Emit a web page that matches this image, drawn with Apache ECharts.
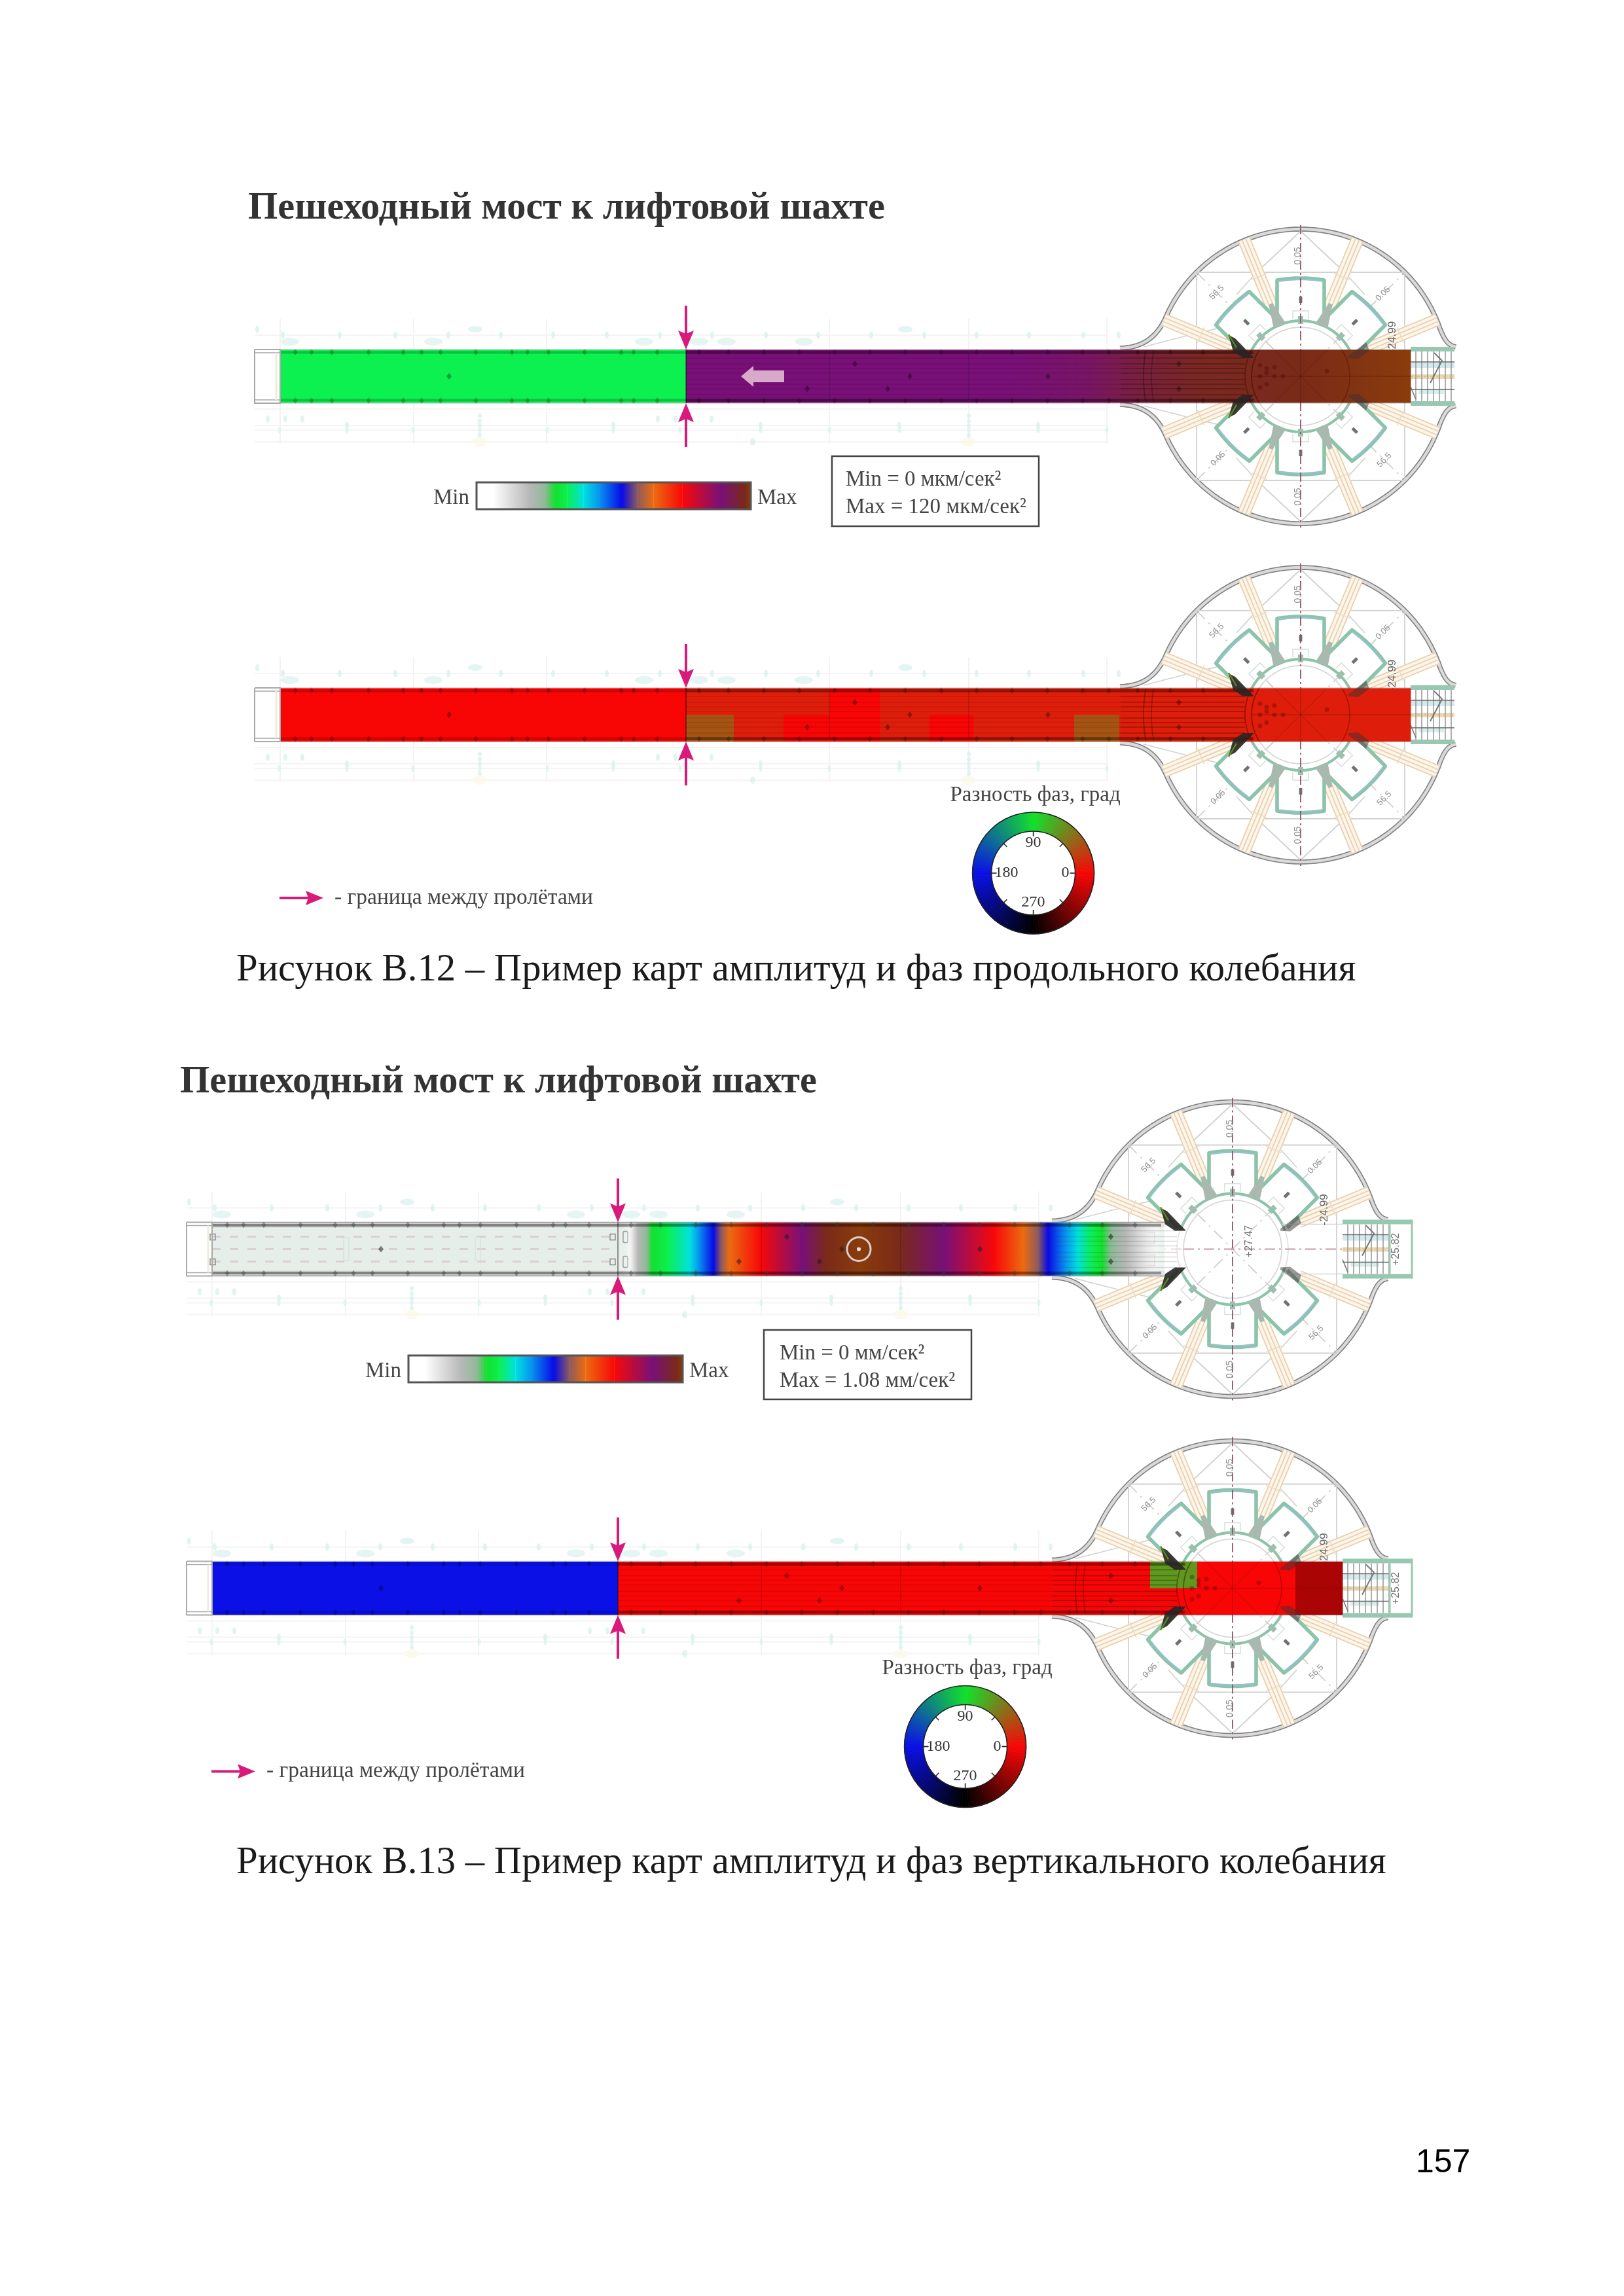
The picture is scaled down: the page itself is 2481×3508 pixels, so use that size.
<!DOCTYPE html>
<html><head><meta charset="utf-8">
<style>html,body{margin:0;padding:0;background:#fff}#c{width:2481px;height:3508px}</style>
<script src="https://cdn.jsdelivr.net/npm/echarts@6/dist/echarts.min.js"></script>
</head><body><div id="c"></div>
<script>
// ---- data ----
// amplitude along the bridge (share of Max), longitudinal mode
const longAmpPos=[0,620,620,1100,1190,1240,1300,1400,1560,1727];
const longAmpVal=[.33,.33,.89,.89,.90,.91,.94,.97,.98,1];
// amplitude along the bridge, vertical mode
const vertAmpPos=[620,634,650,672,696,730,744,766,790,837,901,939,990,1048,1118,1195,1239,1262,1277,1322,1360,1396,1443,1490];
const vertAmpVal=[0,.03,.19,.285,.33,.39,.45,.53,.645,.75,.89,.98,1,.98,.89,.75,.645,.585,.53,.39,.285,.19,.06,0];
// phase cells (degrees)
const longPhaseEdges=[0,620,693,769,840,916,992,1059,1213,1282,1727];
const longPhaseTop=[0,10,10,10,0,10,10,10,10,10];
const longPhaseBottom=[0,32,10,0,0,10,0,10,32,10];
const vertPhaseEdges=[0,620,1433,1505,1655,1727];
const vertPhaseTop=[180,0,60,0,332];
const vertPhaseBottom=[180,0,0,0,332];
// scale stops
const ampScalePos=[0,.06,.19,.25,.285,.33,.39,.45,.53,.585,.645,.75,.89,.98,1];
const ampScaleCol=['#ffffff','#ffffff','#b8b8b8','#90b898','#12e02c','#0cf050','#00e0e0','#0890f0','#0808e8','#8a5a60','#ec6c10','#f80808','#781078','#7a2a18','#8a3c0c'];
const phaseScalePos=[0,90,180,270,360];
const phaseScaleCol=['#f80606','#12e02c','#0a10e6','#000000','#f80606'];
const phaseTicks=[0,45,90,135,180,225,270,315];
const phaseLabels=['0','90','180','270'];
// drawing survey
const supportS=[0,204,407,620,839,1052,1263];
const layoutRowsY=[-63,50,75,82,100];
const upperDotS=[4,91,176,257,337,417,499,580,660,742,822,903,984,1064,1144,1227,1281];
const upperTagS=[298,955];
const upperBlockS=[15,234,556,640,682,800];
const lowerDotAS=[-19,8,34,577,604,659];
const lowerDotBS=[102,509,734,946,1158];
const lowerDotCS=[-1,102,203,305,408,509,611,734,839,946,1052,1158,1263];
const lowerStackS=[305,1052];
const lowerStackY=[60,68,75,90];
const deckNodeS=[23,48,79,135,188,216,245,299,354,378,410,465,521,540,576,640,685,739,793,847,901,955,1010,1064,1118,1172,1226,1266,1310,1360,1410];
const deckMarkS=[258,962,805,878,928,1173,1373,1373];
const deckMarkY=[0,0,19,-19,19,0,-19,19];
const plazaMarkX=[-62,-52,-40,-27,-62,-52,-62,-52,-40,40];
const plazaMarkY=[-17,-12,0,0,0,12,17,-5,-14,-8];
const beamAngles=[22.5,67.5,112.5,157.5,202.5,247.5,292.5,337.5];
const pavilionAngles=[45,90,135,225,270,315];
const dimTexts=['0.05','56.5','0.05','56.5','0.05','-24.99','+27.47','+25.82'];

// ---- layout ----
const W=2481,H=3508;
const plazaS=1559, barHalf=40.5, spanJoint=620, barEnd=1727;
const F='"Liberation Serif"';
const panels=[
 {cy:575,left:428,kind:'amp',pos:longAmpPos,val:longAmpVal,stairEnd:1794,deck:false},
 {cy:1092,left:428,kind:'phase',edges:longPhaseEdges,top:longPhaseTop,bot:longPhaseBottom,stairEnd:1794,deck:false},
 {cy:1908.5,left:324,kind:'amp',pos:vertAmpPos,val:vertAmpVal,stairEnd:1833,deck:true},
 {cy:2426.5,left:324,kind:'phase',edges:vertPhaseEdges,top:vertPhaseTop,bot:vertPhaseBottom,stairEnd:1833,deck:false}
];

function hex(c){return [parseInt(c.slice(1,3),16),parseInt(c.slice(3,5),16),parseInt(c.slice(5,7),16)];}
function scaleColor(v,P,C){
  let i=0; while(i<P.length-2&&v>P[i+1])i++;
  const t=Math.max(0,Math.min(1,(v-P[i])/(P[i+1]-P[i])));
  const a=hex(C[i]),b=hex(C[i+1]);
  return [0,1,2].map(k=>Math.round(a[k]+(b[k]-a[k])*t));
}
function ampColor(v,fade){
  const c=scaleColor(v,ampScalePos,ampScaleCol);
  const al=fade?Math.min(1,v/.12):1;
  return 'rgba('+c[0]+','+c[1]+','+c[2]+','+al.toFixed(3)+')';
}
function phaseColor(p){const c=scaleColor(p,phaseScalePos,phaseScaleCol);return 'rgb('+c.join(',')+')';}

function line(pts,stroke,w,dash){return {type:'polyline',shape:{points:pts},style:{stroke:stroke,lineWidth:w,fill:null,lineDash:dash||null,lineCap:'butt',lineJoin:'round'},silent:true};}
function poly(pts,fill,stroke,w){return {type:'polygon',shape:{points:pts},style:{fill:fill,stroke:stroke||null,lineWidth:w||0},silent:true};}

// ---- plaza drawn under the bar ----
function plazaLayer(cfg){
 return function(params,api){
  const P=(dx,dy)=>api.coord([plazaS+dx,dy]);
  const L=(a,r,t)=>{const c=Math.cos(a*Math.PI/180),s=Math.sin(a*Math.PI/180);return P(r*c+t*s,-r*s+t*c);};
  const ch=[];
  const bez=(a,b,c,d,n)=>{const o=[];for(let i=0;i<=n;i++){const t=i/n,u=1-t;o.push([u*u*u*a[0]+3*u*u*t*b[0]+3*u*t*t*c[0]+t*t*t*d[0],u*u*u*a[1]+3*u*u*t*b[1]+3*u*t*t*c[1]+t*t*t*d[1]]);}return o;};
  const arc=(r,a0,a1,n)=>{const o=[];for(let i=0;i<=n;i++){const a=(a0+(a1-a0)*i/n)*Math.PI/180;o.push([r*Math.cos(a),-r*Math.sin(a)]);}return o;};
  [1,-1].forEach(sg=>{
    const pts=[].concat(
      bez([-276,-43],[-245,-44],[-222,-56],[-207,-88],14),
      arc(225,156.9,19.5,70),
      bez([212,-75],[220,-54],[226,-47],[237,-45],8)
    ).map(q=>P(q[0],q[1]*sg));
    ch.push(line(pts,'#808080',7.6));
    ch.push(line(pts,'#dadada',4.4));
  });
  // bearing square and stays
  const sq=159;
  ch.push(line([P(-sq,-sq),P(sq,-sq),P(sq,sq),P(-sq,sq),P(-sq,-sq)],'#d2d2d2',1.8));
  [-1,1].forEach(sg=>{
    ch.push(line([P(0,sg*222),P(-67,sg*159),P(-98,sg*125)],'#d2d2d2',1.8));
    ch.push(line([P(0,sg*222),P(67,sg*159),P(98,sg*125)],'#d2d2d2',1.8));
    ch.push(line([P(-240,sg*45),P(-174,sg*62),P(-120,sg*75)],'#d2d2d2',1.8));
    ch.push(line([P(-sq,-sq*sg),P(sq,sq*sg)],'#cacaca',1.6,[18,8,3,8]));
  });
  // cable beams
  beamAngles.forEach(a=>{
    ch.push(poly([L(a,110,-10),L(a,226,-10),L(a,226,10),L(a,110,10)],'#fbf5ec'));
    [-9,-3,3,9].forEach(t=>ch.push(line([L(a,110,t),L(a,226,t)],'#eacfa8',1.7)));
    ch.push(line([L(a,165,-13),L(a,165,13)],'#eedabd',1.4));
  });
  // rings
  const ring=(r,c,w)=>ch.push(line(arc(r,0,360,90).map(q=>P(q[0],q[1])),c,w));
  ring(75,'#d6d6d6',1.7); ring(85,'#dcdcdc',1.5);
  // pavilions
  pavilionAngles.forEach(a=>{
    ch.push(poly([L(a,80,-36),L(a,147,-36),L(a,150,0),L(a,147,36),L(a,80,36)],'#ffffff'));
    const out=[];for(let t=-36;t<=36;t+=4)out.push(L(a,150-3*(t/36)*(t/36),t));
    const inner=[];for(let t=-36;t<=36;t+=4)inner.push(L(a,Math.sqrt(82*82-t*t)+3,t));
    ch.push(line([L(a,82,-36),L(a,147,-36)].concat(out).concat([L(a,147,36),L(a,82,36)]),'#8cc4aa',5.6));
    const inn2=[];for(let t=-33;t<=33;t+=4)inn2.push(L(a,148-3*(t/36)*(t/36),t));
    ch.push(line(inn2,'#97c0d2',2.4));
    ch.push(line(inner,'#8cc4aa',4.2));
    ch.push(line([L(a,88,-12),L(a,100,-12),L(a,100,12),L(a,88,12)],'#d6ded9',1.5));
    ch.push(poly([L(a,80,-4),L(a,92,-4),L(a,92,4),L(a,80,4)],'#9dbfae'));
    ch.push(poly([L(a,112,-2.4),L(a,122,-2.4),L(a,122,2.4),L(a,112,2.4)],'#707070'));
  });
  // joints between pavilions
  [67.5,112.5,247.5,292.5].forEach(a=>{
    ch.push(poly([L(a,84,-10),L(a,120,-3),L(a,120,3),L(a,84,10)],'#aab9b0'));
  });
  const sx=barEnd-plazaS, ex=cfg.stairEnd-plazaS, boxX=240;
  // axis and centre line
  ch.push(line([P(0,-231),P(0,231)],'#8d5468',1.8,[14,5,3,5]));
  ch.push(line([P(-75,0),P(ex,0)],'#c79aa2',1.8,[16,6,3,6]));
  ch.push(line([P(-238,0),P(-75,0)],'#e4cfd0',1.8,[16,8]));
  [-1,1].forEach(sg=>ch.push(line([P(75,sg*38),P(168,sg*38)],'#d6d6d6',1.5)));
  // stair
  const treadEnd=Math.min(ex,boxX);
  ch.push(poly([P(sx,-38),P(ex,-38),P(ex,38),P(sx,38)],'#ffffff'));
  ch.push(poly([P(sx,-21),P(treadEnd,-21),P(treadEnd,-13),P(sx,-13)],'#d2e9ee'));
  ch.push(poly([P(sx,-3),P(treadEnd,-3),P(treadEnd,4),P(sx,4)],'#ead7b6'));
  ch.push(poly([P(sx+12,20),P(treadEnd-16,20),P(treadEnd-16,27),P(sx+12,27)],'#d6efec'));
  for(let x=sx+8;x<treadEnd;x+=9)ch.push(line([P(x,-38),P(x,38)],'#8d8d8d',1.4));
  ch.push(line([P(sx,-22),P(treadEnd,-22)],'#666666',1.6));
  ch.push(line([P(sx,20),P(treadEnd,20)],'#666666',1.6));
  ch.push(line([P(sx,0),P(treadEnd,0)],'#d8c060',1.6,[4,6]));
  ch.push(line([P(sx+36,-36),P(sx+48,-24),P(sx+30,10)],'#777777',2));
  ch.push(line([P(sx,16),P(sx+8,35)],'#777777',1.6));
  ch.push(line([P(sx,-41.5),P(ex,-41.5)],'#99c8b2',7));
  ch.push(line([P(sx,41.5),P(ex,41.5)],'#99c8b2',7));
  if(ex>boxX){
    ch.push(line([P(boxX,-38),P(boxX,38)],'#99c8b2',3));
    ch.push(line([P(ex,-45),P(ex,45)],'#99c8b2',3));
  }
  // drawing dimension texts
  const t=(s,p,rot,fs,col)=>ch.push({type:'text',x:p[0],y:p[1],rotation:rot,silent:true,style:{text:s,fontFamily:'"Liberation Sans"',fontSize:fs,fill:col,align:'center',verticalAlign:'middle'}});
  t(dimTexts[0],P(-4,-184),Math.PI/2,14,'#909090');
  t(dimTexts[2],P(-4,184),Math.PI/2,14,'#909090');
  t(dimTexts[1],P(-128,-128),-Math.PI/4*3+Math.PI,13,'#909090');
  t(dimTexts[3],P(128,128),-Math.PI/4*3+Math.PI,13,'#909090');
  t(dimTexts[4],P(126,-126),Math.PI/4,13,'#909090');
  t(dimTexts[4],P(-126,126),Math.PI/4,13,'#909090');
  t(dimTexts[5],P(140,-60),Math.PI/2,17,'#666');
  if(cfg.deck)t(dimTexts[6],P(26,-12),Math.PI/2,16,'#777');
  if(cfg.stairEnd>1800)t(dimTexts[7],P(250,0),Math.PI/2,16,'#777');
  return {type:'group',children:ch};
 };
}

// ---- faint survey lines ----
function layoutLayer(params,api){
  const ch=[];
  supportS.forEach(s=>ch.push(line([api.coord([s,-88]),api.coord([s,103])],'#efefef',1.5)));
  layoutRowsY.forEach(y=>ch.push(line([api.coord([-39,y]),api.coord([1263,y])],'#f4f4f4',2)));
  return {type:'group',children:ch};
}

// ---- deck under translucent map (vertical mode only) ----
function deckBaseLayer(params,api){
  const P=(x,y)=>api.coord([x,y]);
  const ch=[];
  ch.push(poly([P(0,-41),P(1455,-41),P(1455,41),P(0,41)],'#e6eee9'));
  ch.push(poly([P(0,-41),P(1455,-41),P(1455,-33),P(0,-33)],'#d2d2d2'));
  ch.push(poly([P(0,33),P(1455,33),P(1455,41),P(0,41)],'#d2d2d2'));
  [0,-19,19].forEach(y=>ch.push(line([P(0,y),P(620,y)],'#dccfd0',3,[13,14])));
  [204,405].forEach(s=>ch.push({type:'rect',shape:{x:P(s-3,-18)[0],y:P(s,-18)[1],width:8,height:36,r:3},style:{fill:null,stroke:'#d8e4dd',lineWidth:1.5},silent:true}));
  [1,612].forEach(s=>[-19,19].forEach(y=>ch.push({type:'rect',shape:{x:P(s-4,y)[0],y:P(s,y-4)[1],width:8,height:9},style:{fill:null,stroke:'#888',lineWidth:1.4},silent:true})));
  [-19,19].forEach(y=>ch.push({type:'rect',shape:{x:P(628,y)[0],y:P(628,y-8)[1],width:7,height:17,r:2},style:{fill:null,stroke:'#888',lineWidth:1.4},silent:true}));
  [-17,17].forEach(y=>ch.push({type:'rect',shape:{x:P(1350,y)[0],y:P(1350,y-8)[1],width:90,height:16},style:{fill:null,stroke:'#b5b5b5',lineWidth:1.4},silent:true}));
  return {type:'group',children:ch};
}

// ---- map segments ----
function ampSegment(fade){
 return function(params,api){
  const x0=api.value(0),x1=api.value(1),v0=api.value(2),v1=api.value(3);
  const a=api.coord([x0,-barHalf]),b=api.coord([x1,barHalf]);
  const stops=[];for(let i=0;i<=6;i++){stops.push({offset:i/6,color:ampColor(v0+(v1-v0)*i/6,fade)});}
  return {type:'rect',silent:true,shape:{x:a[0],y:a[1],width:b[0]-a[0]+.4,height:b[1]-a[1]},
    style:{fill:new echarts.graphic.LinearGradient(0,0,1,0,stops)}};
 };
}
function phaseCell(params,api){
  const row=api.value(2);
  const a=api.coord([api.value(0),row?0:-barHalf]),b=api.coord([api.value(1),row?barHalf:0]);
  return {type:'rect',silent:true,shape:{x:a[0],y:a[1],width:b[0]-a[0]+.4,height:b[1]-a[1]+.4},style:{fill:phaseColor(api.value(3))}};
}

// ---- lines of the drawing that show through the map ----
function overlayLayer(idx,cfg){
 return function(params,api){
  const P=(x,y)=>api.coord([x,y]);
  const Q=(dx,dy)=>api.coord([plazaS+dx,dy]);
  const ch=[];
  const railEnd=cfg.deck?1450:plazaS-72;
  const leftA=cfg.deck?.38:(idx===3?.1:.18), rightA=cfg.deck?.38:.36;
  [-36.5,36.5].forEach(y=>{
    ch.push(line([P(0,y),P(spanJoint,y)],'rgba(0,0,0,'+leftA+')',4));
    ch.push(line([P(spanJoint,y),P(railEnd,y)],'rgba(0,0,0,'+rightA+')',4.5));
  });
  [-41,41].forEach(y=>ch.push(line([P(0,y),P(cfg.deck?1455:barEnd,y)],cfg.deck?'rgba(110,110,110,.6)':'rgba(70,40,40,.22)',1.6)));
  const ys=[-28,-19,-12,-5,5,12,19,28];
  ys.forEach(y=>{
    if(!cfg.deck)ch.push(line([P(spanJoint,y),P(1284,y)],'rgba(0,0,0,.1)',1.4));
    ch.push(line([P(1284,y),P(plazaS-85,y)],cfg.deck?'rgba(60,60,60,.18)':'rgba(0,0,0,.3)',1.6));
  });
  ch.push(line([P(spanJoint,-41),P(spanJoint,41)],'rgba(0,0,0,.4)',2));
  [839,1052].forEach(s=>ch.push(line([P(s,-36),P(s,36)],'rgba(0,0,0,.16)',1.6)));
  // plaza entry curve and rings seen through the map
  if(!cfg.deck){
    const arcPts=(r,sg,a0,a1)=>{const o=[];for(let i=0;i<=16;i++){const a=(a0+(a1-a0)*i/16)*Math.PI/180;o.push(Q(sg*r*Math.cos(a),r*Math.sin(a)));}return o;};
    ch.push(line(arcPts(75,-1,-32,32),'rgba(60,0,0,.45)',1.8));
    ch.push(line(arcPts(85,-1,-28,28),'rgba(60,0,0,.4)',1.8));
    ch.push(line(arcPts(75,1,-32,32),'rgba(60,0,0,.3)',1.8));
    ch.push(line(arcPts(240,-1,-9.5,9.5),'rgba(0,0,0,.3)',1.8));
    ch.push(line(arcPts(228,-1,-10,10),'rgba(0,0,0,.24)',1.8));
    ch.push(line([Q(-75,0),Q(168,0)],'rgba(70,0,0,.25)',1.4));
    ch.push(line([Q(0,-40),Q(0,40)],'rgba(70,0,0,.25)',1.4));
    ch.push(line([Q(-40,-40),Q(40,40)],'rgba(70,0,0,.16)',1.2));
    ch.push(line([Q(-40,40),Q(40,-40)],'rgba(70,0,0,.16)',1.2));
  }
  // entry wedges at both sides of the central ring
  [-1,1].forEach(sg=>{
    ch.push(poly([Q(-110,sg*63),Q(-103,sg*38),Q(-88,sg*28),Q(-71,sg*28),Q(-100,sg*58)],'rgba(40,36,36,.9)'));
    ch.push(poly([Q(73,sg*28),Q(88,sg*27),Q(105,sg*40),Q(100,sg*52),Q(73,sg*31)],'rgba(60,50,50,.5)'));
    ch.push(line([Q(-110,sg*64),Q(-98,sg*44)],'#5d8a1c',2.4));
  });
  // left stub
  ch.push(line([P(-39,-41),P(0,-41),P(0,41),P(-39,41),P(-39,-41)],'#a8a8a8',2));
  [-36,36].forEach(y=>ch.push(line([P(-39,y),P(0,y)],'#a8a8a8',1.6)));
  ch.push(line([P(-6,-36),P(-6,36)],'#efeadb',3));
  if(idx===0){ // direction arrow on the second span
    ch.push(poly([P(704,0),P(723,-16),P(723,-9),P(770,-9),P(770,9),P(723,9),P(723,16)],'#d8a9c9'));
  }
  if(idx===2){
    const o=P(988,0);
    ch.push({type:'ellipse',shape:{cx:o[0],cy:o[1],rx:18,ry:18},style:{fill:null,stroke:'#d8d2d0',lineWidth:3},silent:true});
    ch.push({type:'circle',shape:{cx:o[0],cy:o[1],r:3},style:{fill:'#e8e0e0'},silent:true});
  }
  return {type:'group',children:ch};
 };
}

// ---- span boundary arrows ----
function boundaryArrows(params,api){
  const P=(x,y)=>api.coord([x,y]);
  const col='#d81b7a', x=spanJoint;
  const ch=[];
  [-1,1].forEach(sg=>{
    ch.push(line([P(x,sg*108),P(x,sg*60)],col,4));
    ch.push(poly([P(x,sg*41),P(x-12,sg*70),P(x,sg*65),P(x+12,sg*70)],col));
  });
  return {type:'group',children:ch};
}

// ---- series ----
const grids=[],xAxes=[],yAxes=[],series=[];
panels.forEach((cfg,i)=>{
  grids.push({left:0,width:W,top:cfg.cy-280,height:560,show:false});
  xAxes.push({type:'value',gridIndex:i,min:-cfg.left,max:W-cfg.left,show:false});
  yAxes.push({type:'value',gridIndex:i,min:-280,max:280,inverse:true,show:false});
  const ax={xAxisIndex:i,yAxisIndex:i,silent:true};
  const one=[[0,0]];
  series.push(Object.assign({type:'custom',z:1,clip:false,data:one,renderItem:layoutLayer},ax));
  const dot=(name,xs,y,size,color)=>series.push(Object.assign({type:'scatter',name:name,z:2,symbol:'circle',symbolSize:size,itemStyle:{color:color},data:xs.map(s=>[s,y])},ax));
  dot('survey',upperDotS,-63,[6,11],'#d8f1ee');
  dot('tags',upperTagS,-72,[22,10],'#dcf3f0');
  dot('tags',[-35],-72,[6,11],'#d8f1ee');
  dot('blocks',upperBlockS,-53,[28,12],'#ddf3f0');
  dot('survey',lowerDotAS,65,[6,11],'#d8f1ee');
  dot('survey',lowerDotBS,75,[6,11],'#d8f1ee');
  dot('survey',lowerDotCS,82,[5,10],'#dcf3f0');
  lowerStackY.forEach(y=>dot('survey',lowerStackS,y,[6,7],'#d8f1ee'));
  dot('foot',lowerStackS,100,[22,14],'#fbf8e8');
  dot('foot',[722],100,[8,11],'#d8f1ee');
  series.push(Object.assign({type:'custom',z:3,clip:false,data:one,renderItem:plazaLayer(cfg)},ax));
  if(cfg.deck)series.push(Object.assign({type:'custom',z:4,clip:false,data:one,renderItem:deckBaseLayer},ax));
  if(cfg.kind==='amp'){
    const segs=[];
    for(let k=0;k+1<cfg.pos.length;k++){ if(cfg.pos[k+1]>cfg.pos[k]) segs.push([cfg.pos[k],cfg.pos[k+1],cfg.val[k],cfg.val[k+1]]); }
    series.push(Object.assign({type:'custom',z:5,clip:false,data:segs,encode:{x:[0,1]},renderItem:ampSegment(cfg.deck)},ax));
  }else{
    const cells=[];
    for(let k=0;k+1<cfg.edges.length;k++){
      cells.push([cfg.edges[k],cfg.edges[k+1],0,cfg.top[k]]);
      cells.push([cfg.edges[k],cfg.edges[k+1],1,cfg.bot[k]]);
    }
    series.push(Object.assign({type:'custom',z:5,clip:false,data:cells,encode:{x:[0,1]},renderItem:phaseCell},ax));
  }
  series.push(Object.assign({type:'custom',z:6,clip:false,data:one,renderItem:overlayLayer(i,cfg)},ax));
  const nodeCol=cfg.deck?'rgba(60,60,60,.5)':'rgba(0,0,0,.28)';
  [-37,37].forEach(y=>series.push(Object.assign({type:'scatter',z:7,symbol:'diamond',symbolSize:[7,10],itemStyle:{color:nodeCol},data:deckNodeS.map(s=>[s,y])},ax)));
  series.push(Object.assign({type:'scatter',z:7,symbol:'diamond',symbolSize:[8,10],itemStyle:{color:cfg.deck?'rgba(30,30,30,.7)':'rgba(0,0,0,.4)'},data:deckMarkS.map((s,k)=>[s,deckMarkY[k]])},ax));
  if(!cfg.deck)series.push(Object.assign({type:'scatter',z:7,symbol:'circle',symbolSize:7,itemStyle:{color:'rgba(70,0,0,.38)'},data:plazaMarkX.map((x,k)=>[plazaS+x,plazaMarkY[k]])},ax));
  series.push(Object.assign({type:'custom',z:8,clip:false,data:one,renderItem:boundaryArrows},ax));
});

// amplitude colour bars
const barBoxes=[{x:728,y:737},{x:624,y:2071}];
const barW=419,barH=41;
barBoxes.forEach((b,j)=>{
  const gi=grids.length;
  grids.push({left:b.x,top:b.y,width:barW,height:barH,show:false});
  xAxes.push({type:'value',gridIndex:gi,min:0,max:1,show:false});
  yAxes.push({type:'value',gridIndex:gi,min:0,max:1,show:false});
  const segs=[];
  for(let k=0;k+1<ampScalePos.length;k++)segs.push([ampScalePos[k],ampScalePos[k+1]]);
  series.push({type:'custom',xAxisIndex:gi,yAxisIndex:gi,z:5,silent:true,clip:false,data:segs,encode:{x:[0,1]},
   renderItem:function(params,api){
    const x0=api.value(0),x1=api.value(1);
    const a=api.coord([x0,1]),c=api.coord([x1,0]);
    return {type:'rect',silent:true,shape:{x:a[0],y:a[1],width:c[0]-a[0]+.4,height:c[1]-a[1]},
      style:{fill:new echarts.graphic.LinearGradient(0,0,1,0,[{offset:0,color:ampColor(x0)},{offset:1,color:ampColor(x1)}])}};
   }});
});

// phase wheels
const wheels=[{x:1578.6,y:1334},{x:1474.6,y:2668.5}];
const wheelSlices=[];for(let d=0;d<360;d+=3)wheelSlices.push(d);
const rIn=64,rOut=93;
wheels.forEach(w=>{
  series.push({type:'pie',center:[w.x,w.y],radius:[rIn,rOut],startAngle:0,clockwise:false,silent:true,z:5,
    label:{show:false},labelLine:{show:false},emphasis:{disabled:true},avoidLabelOverlap:false,
    data:wheelSlices.map(d=>{const c=phaseColor(d+1.5);return {value:1,itemStyle:{color:c,borderColor:c,borderWidth:.8}};})});
});

// ---- text and page furniture ----
const gfx=[];
function txt(s,x,y,fs,opt){opt=opt||{};gfx.push({type:'text',x:x,y:y,z:20,silent:true,style:{text:s,fontFamily:opt.font||F,fontSize:fs,fontWeight:opt.bold?'bold':'normal',fill:opt.fill||'#333',align:opt.align||'left',verticalAlign:'middle'}});}
const heading='Пешеходный мост к лифтовой шахте';
txt(heading,379,319,58.3,{bold:true,fill:'#333'});
txt(heading,275,1654,58.3,{bold:true,fill:'#333'});
txt('Рисунок В.12 – Пример карт амплитуд и фаз продольного колебания',361,1483,58.7,{fill:'#1a1a1a'});
txt('Рисунок В.13 – Пример карт амплитуд и фаз вертикального колебания',361,2847,58.7,{fill:'#1a1a1a'});
txt('157',2163,3305,50,{font:'"Liberation Sans"',fill:'#000'});

const boxes=[{x:1271,y:697,w:316,h:107,tx:1292,my:[733,775],a:'Min = 0 мкм/сек²',b:'Max = 120 мкм/сек²'},
             {x:1167,y:2032,w:317,h:106,tx:1191,my:[2068,2110],a:'Min = 0 мм/сек²',b:'Max = 1.08 мм/сек²'}];
boxes.forEach(b=>{
  gfx.push({type:'rect',z:19,silent:true,shape:{x:b.x,y:b.y,width:b.w,height:b.h},style:{fill:null,stroke:'#444',lineWidth:2.5}});
  txt(b.a,b.tx,b.my[0],33,{fill:'#444'});
  txt(b.b,b.tx,b.my[1],33,{fill:'#444'});
});
barBoxes.forEach(b=>{
  gfx.push({type:'rect',z:19,silent:true,shape:{x:b.x,y:b.y,width:barW,height:barH},style:{fill:null,stroke:'#555',lineWidth:3}});
  txt('Min',b.x-66,b.y+24,33,{fill:'#444'});
  txt('Max',b.x+429,b.y+24,33,{fill:'#444'});
});
wheels.forEach(w=>{
  [rIn,rOut].forEach(r=>gfx.push({type:'circle',z:19,silent:true,shape:{cx:w.x,cy:w.y,r:r},style:{fill:null,stroke:'#222',lineWidth:1.6}}));
  phaseTicks.forEach(d=>{
    const a=d*Math.PI/180,c=Math.cos(a),s=Math.sin(a),l=d%90===0?rIn-8:rIn-7;
    gfx.push({type:'line',z:19,silent:true,shape:{x1:w.x+c*rIn,y1:w.y-s*rIn,x2:w.x+c*l,y2:w.y-s*l},style:{stroke:'#222',lineWidth:1.6}});
  });
  const lx=[49,0,-41,0],ly=[0,-46,0,45];
  phaseLabels.forEach((t,k)=>txt(t,w.x+lx[k],w.y+ly[k],24,{align:'center',fill:'#333'}));
  txt('Разность фаз, град',w.x+3,w.y-119,33,{align:'center',fill:'#444'});
});
[{x:427,y:1372},{x:323,y:2706.5}].forEach(l=>{
  gfx.push({type:'line',z:19,silent:true,shape:{x1:l.x,y1:l.y,x2:l.x+44,y2:l.y},style:{stroke:'#d81b7a',lineWidth:4}});
  gfx.push({type:'polygon',z:19,silent:true,shape:{points:[[l.x+67,l.y],[l.x+40,l.y-11],[l.x+44,l.y],[l.x+40,l.y+11]]},style:{fill:'#d81b7a'}});
  txt('- граница между пролётами',l.x+84,l.y,33.5,{fill:'#444'});
});

const chart=echarts.init(document.getElementById('c'),null,{renderer:'canvas',width:W,height:H});
chart.setOption({animation:false,backgroundColor:'#ffffff',grid:grids,xAxis:xAxes,yAxis:yAxes,series:series,graphic:{elements:gfx}});
</script></body></html>
